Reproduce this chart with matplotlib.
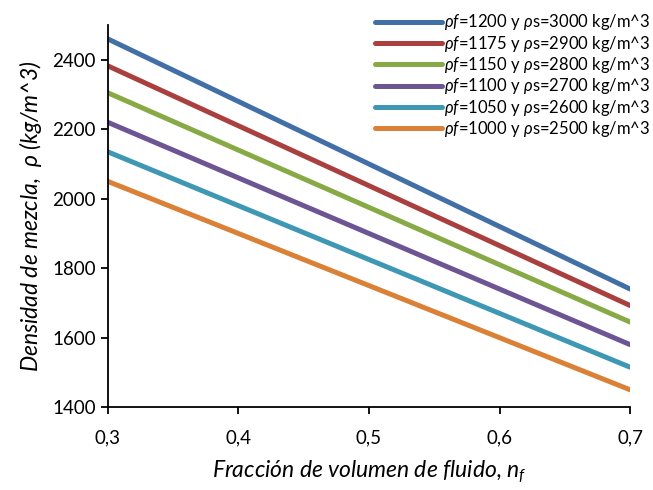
import matplotlib
matplotlib.use("Agg")
import matplotlib.pyplot as plt

plt.rcParams['font.family'] = ['Lato', 'DejaVu Sans']
plt.rcParams['mathtext.fontset'] = 'custom'
plt.rcParams['mathtext.it'] = 'Lato:italic'
plt.rcParams['mathtext.rm'] = 'Lato'

n_f = [0.3, 0.4, 0.5, 0.6, 0.7]
rho_1200_3000 = [2460, 2280, 2100, 1920, 1740]
rho_1175_2900 = [2382.5, 2210, 2037.5, 1865, 1692.5]
rho_1150_2800 = [2305, 2140, 1975, 1810, 1645]
rho_1100_2700 = [2220, 2060, 1900, 1740, 1580]
rho_1050_2600 = [2135, 1980, 1825, 1670, 1515]
rho_1000_2500 = [2050, 1900, 1750, 1600, 1450]

labels = [
    r"$\rho f$=1200 y $\rho$s=3000 kg/m^3",
    r"$\rho f$=1175 y $\rho$s=2900 kg/m^3",
    r"$\rho f$=1150 y $\rho$s=2800 kg/m^3",
    r"$\rho f$=1100 y $\rho$s=2700 kg/m^3",
    r"$\rho f$=1050 y $\rho$s=2600 kg/m^3",
    r"$\rho f$=1000 y $\rho$s=2500 kg/m^3",
]
series = [rho_1200_3000, rho_1175_2900, rho_1150_2800,
          rho_1100_2700, rho_1050_2600, rho_1000_2500]
colors = ['#416FA6', '#A9403F', '#87AA46', '#6D5593', '#3E98B3', '#DA8137']

x_ticks = [0.3, 0.4, 0.5, 0.6, 0.7]
x_ticklabels = ['0,3', '0,4', '0,5', '0,6', '0,7']
y_ticks = [1400, 1600, 1800, 2000, 2200, 2400]

fig = plt.figure(figsize=(6.53, 4.9), dpi=100)
ax = fig.add_axes([0.165, 0.169, 0.800, 0.780])

for ys, c, lab in zip(series, colors, labels):
    ax.plot(n_f, ys, color=c, lw=3.6, solid_capstyle='round', label=lab)

ax.set_xlim(0.3, 0.7)
ax.set_ylim(1400, 2500)
ax.set_xticks(x_ticks)
ax.set_xticklabels(x_ticklabels)
ax.set_yticks(y_ticks)
for s in ['top', 'right']:
    ax.spines[s].set_visible(False)
for s in ['left', 'bottom']:
    ax.spines[s].set_linewidth(1.3)
    ax.spines[s].set_color('black')
ax.tick_params(axis='both', direction='out', length=5, width=1.3, labelsize=13.5, colors='black')
ax.tick_params(axis='x', pad=11)

ax.set_xlabel(r"Fracción de volumen de fluido, $n_f$", fontsize=16.5, style='italic', labelpad=9)
ax.set_ylabel(r"Densidad de mezcla,  $\rho$ (kg/m^3)", fontsize=16.5, style='italic', labelpad=6)

leg = ax.legend(loc='upper right', bbox_to_anchor=(1.012, 0.995), bbox_transform=fig.transFigure,
                frameon=False, fontsize=12, handlelength=4.0, handletextpad=0.15,
                labelspacing=0.08, borderaxespad=0.2)

fig.savefig('out.png', dpi=100)
